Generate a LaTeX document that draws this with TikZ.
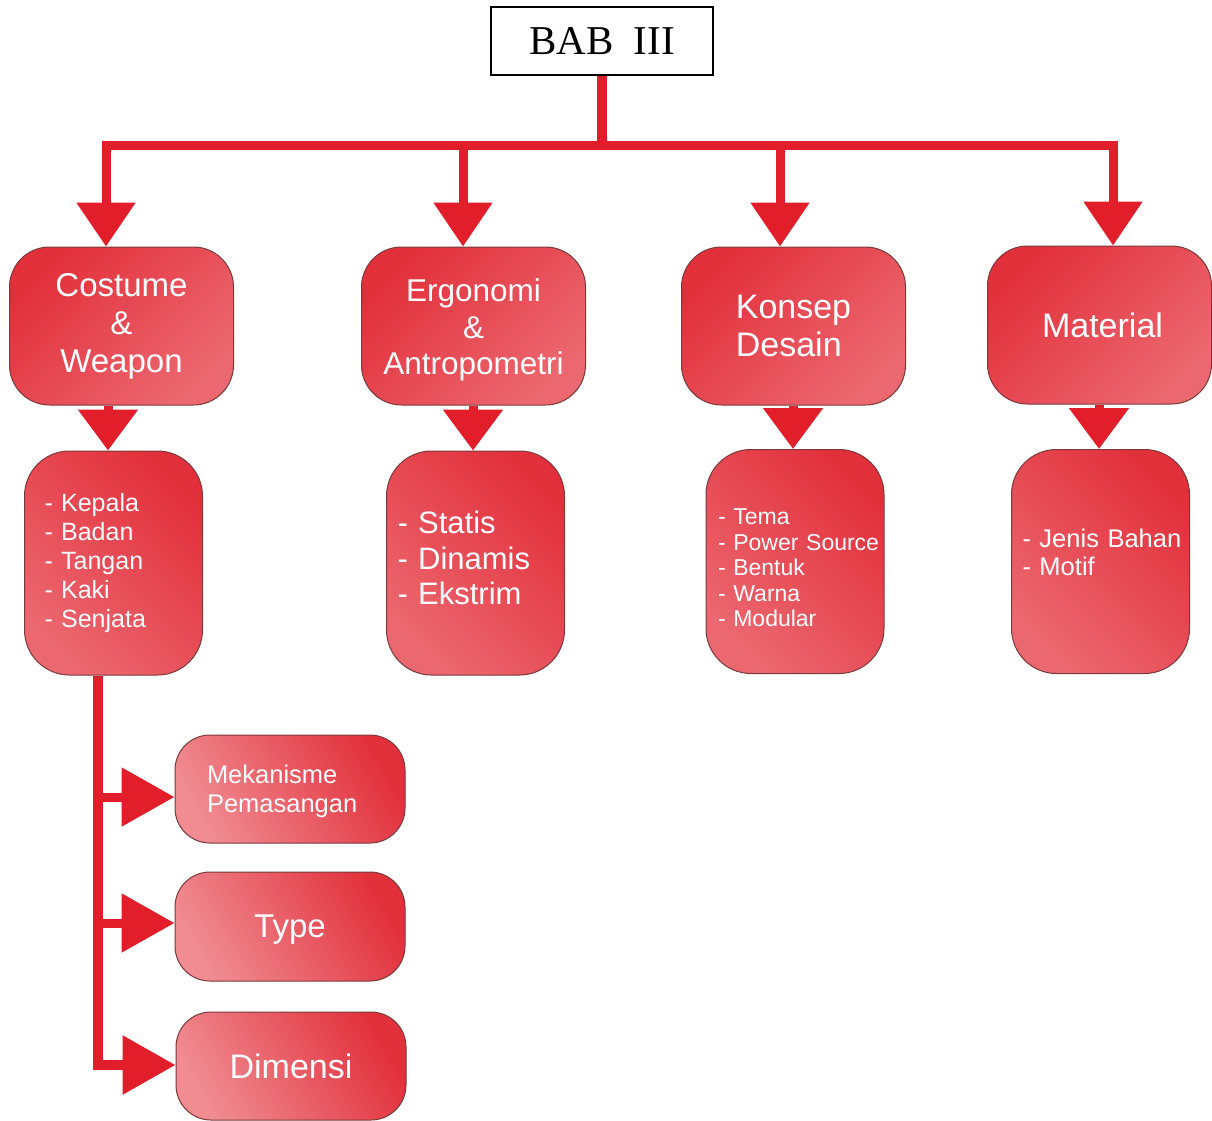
\documentclass[tikz,border=0pt]{standalone}
\usepackage{fontspec}
\setmainfont{Liberation Serif}
\setsansfont{Liberation Sans}
\usetikzlibrary{arrows.meta,shadings}
\definecolor{arr}{HTML}{E31E2B}
\definecolor{bdark}{HTML}{E2303B}
\definecolor{blight}{HTML}{EC6870}
\definecolor{plight}{HTML}{F08C92}
\definecolor{edgec}{HTML}{7A3A3C}
\begin{document}
\begin{tikzpicture}[x=1pt,y=-1pt,
  babbox/.style={rectangle, draw=black, line width=1.5pt, fill=white, minimum width=222pt, minimum height=68pt, inner sep=0pt, font=\rmfamily\fontsize{41}{45}\selectfont},
  lvlone/.style={rectangle, rounded corners=40pt, draw=edgec, line width=1pt, top color=bdark, bottom color=blight, shading angle=45, minimum width=224pt, minimum height=158pt, text=white, font=\sffamily\fontsize{33}{38}\selectfont, align=center, inner sep=0pt},
  lvltwo/.style={rectangle, rounded corners=45pt, draw=edgec, line width=1pt, top color=bdark, bottom color=blight, shading angle=-45, minimum width=178pt, minimum height=224pt, text=white, align=left, inner ysep=0pt},
  lvlthree/.style={rectangle, rounded corners=35pt, draw=edgec, line width=1pt, top color=bdark, bottom color=plight, shading angle=-60, minimum width=230pt, minimum height=108pt, text=white, inner ysep=0pt},
  bar/.style={draw=arr, line width=9pt},
  tipdown/.style={-{Triangle[length=44pt,width=57pt]}},
  tipshort/.style={-{Triangle[length=41pt,width=58pt]}},
  tipright/.style={-{Triangle[length=53pt,width=57pt]}}
]
\fill[white] (0,0) rectangle (1212,1120);
\useasboundingbox (0,0) rectangle (1212,1120);

\node[babbox] (bab) at (602,41) {BAB~~III};

\node[lvlone] (c1) at (121.5,326) {Costume\\\&\\Weapon};
\node[lvlone, font=\sffamily\fontsize{31.5}{36.5}\selectfont] (c2) at (473.5,326) {\rule{0pt}{31pt}Ergonomi\\\&\\Antropometri};
\node[lvlone, align=left, font=\sffamily\fontsize{34}{38}\selectfont] (c3) at (793.5,326) {Konsep\\Desain};
\node[lvlone, font=\sffamily\fontsize{34}{38}\selectfont] (c4) at (1099.5,325) {\hspace*{6pt}Material};

\node[lvltwo, inner xsep=20pt, text width=138pt, font=\sffamily\fontsize{25}{29}\selectfont] (d1) at (113.5,563) {\mbox{- Kepala}\\\mbox{- Badan}\\\mbox{- Tangan}\\\mbox{- Kaki}\\\mbox{- Senjata}};
\node[lvltwo, inner xsep=11pt, text width=156pt, font=\sffamily\fontsize{31}{35.5}\selectfont] (d2) at (475.5,563) {\mbox{- Statis}\\\mbox{- Dinamis}\\\mbox{- Ekstrim}\rule[-10pt]{0pt}{10pt}};
\node[lvltwo, inner xsep=12pt, text width=154pt, font=\sffamily\fontsize{23}{25.5}\selectfont] (d3) at (795,561.5) {\rule{0pt}{28.5pt}\mbox{- Tema}\\\mbox{- Power Source}\\\mbox{- Bentuk}\\\mbox{- Warna}\\\mbox{- Modular}};
\node[lvltwo, inner xsep=11pt, text width=156pt, font=\sffamily\fontsize{25.5}{28}\selectfont] (d4) at (1100.5,561.5) {\mbox{- Jenis Bahan}\\\mbox{- Motif}\rule[-18pt]{0pt}{18pt}};

\node[lvlthree, align=left, inner xsep=32pt, text width=166pt, font=\sffamily\fontsize{25.5}{29}\selectfont] (e1) at (290,789) {\rule{0pt}{24pt}Mekanisme\\Pemasangan};
\node[lvlthree, minimum height=109pt, text depth=0pt, font=\sffamily\fontsize{33}{38}\selectfont] (e2) at (290,926.5) {Type};
\node[lvlthree, font=\sffamily\fontsize{34}{38}\selectfont] (e3) at (291,1066) {Dimensi};

% top tree
\coordinate (bus) at (602,145);
\draw[bar, line width=10.5pt] (bab.south) -- (bus);
\draw[bar, tipdown] (bus) -| ([xshift=-15.5pt]c1.north);
\draw[bar, tipdown] (bus) -| ([xshift=-10.5pt]c2.north);
\draw[bar, tipdown] (bus) -| ([xshift=-13.5pt]c3.north);
\draw[bar, tipdown] (bus) -| ([xshift=13.5pt]c4.north);

% level 1 to level 2
\draw[bar, tipshort] ([xshift=-13.5pt]c1.south) -- ([xshift=-5.5pt]d1.north);
\draw[bar, tipshort] ([xshift=-0.5pt]c2.south) -- ([xshift=-2.5pt]d2.north);
\draw[bar, tipshort] ([xshift=-0.5pt]c3.south) -- ([xshift=-2pt]d3.north);
\draw[bar, tipshort] ([xshift=-0.5pt]c4.south) -- ([xshift=-1.5pt]d4.north);

% lower branch
\coordinate (v0) at ([xshift=-15.5pt]d1.south);
\coordinate (j1) at (98,797);
\coordinate (j2) at (98,923);
\coordinate (j3) at (98,1065);
\draw[bar, line width=9.5pt, tipright] (v0) |- (j3 -| e3.west);
\draw[bar, tipright] (j1) -- (j1 -| e1.west);
\draw[bar, tipright] (j2) -- (j2 -| e2.west);
\end{tikzpicture}
\end{document}
